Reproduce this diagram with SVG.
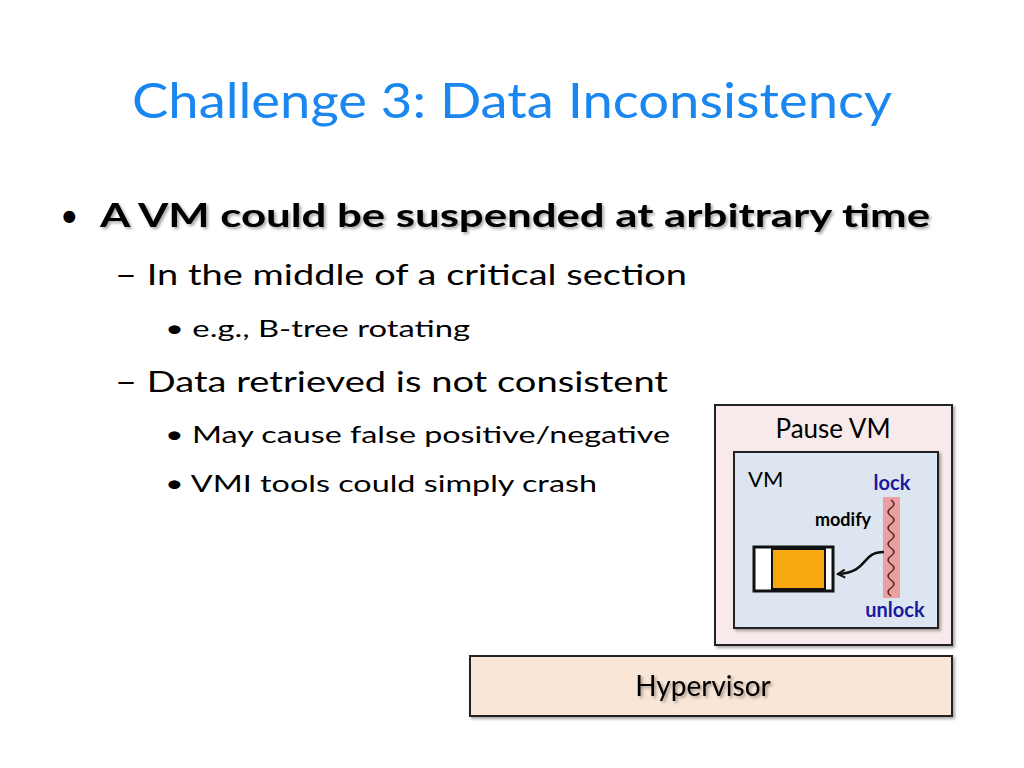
<svg xmlns="http://www.w3.org/2000/svg" width="1024" height="768" viewBox="0 0 1024 768">
<style>
text{font-family:Lato,"Open Sans",sans-serif;}
.t{fill:#000;font-size:32px}
.s{fill:#000;font-size:28px}
.lk{fill:#1a1aa0;font-size:20px;font-weight:bold}
.box{stroke:#222;stroke-width:2}
</style>
<defs>
<filter id="sh" x="-5%" y="-5%" width="115%" height="115%"><feDropShadow dx="2" dy="2" stdDeviation="1.5" flood-color="#000" flood-opacity="0.35"/></filter>
<marker id="ah" markerWidth="10" markerHeight="10" refX="8" refY="5" orient="auto" markerUnits="userSpaceOnUse"><path d="M1,1 L8,5 L1,9" fill="none" stroke="#111" stroke-width="2"/></marker>
</defs>
<rect width="1024" height="768" fill="#fff"/>
<text x="132" y="118" font-size="48" fill="#1a86f0" textLength="760" lengthAdjust="spacingAndGlyphs">Challenge 3: Data Inconsistency</text>
<text x="60" y="227" class="t">•</text>
<text x="100" y="227" class="t" font-weight="bold" fill="#000" style="filter:url(#sh)" textLength="830" lengthAdjust="spacingAndGlyphs">A VM could be suspended at arbitrary time</text>
<text x="115" y="285" class="s" textLength="572" lengthAdjust="spacingAndGlyphs">– In the middle of a critical section</text>
<text x="165" y="337" font-size="24" textLength="305" lengthAdjust="spacingAndGlyphs">• e.g., B-tree rotating</text>
<text x="115" y="392" class="s" textLength="553" lengthAdjust="spacingAndGlyphs">– Data retrieved is not consistent</text>
<text x="165" y="443" font-size="24" textLength="505" lengthAdjust="spacingAndGlyphs">• May cause false positive/negative</text>
<text x="165" y="492" font-size="24" textLength="432" lengthAdjust="spacingAndGlyphs">• VMI tools could simply crash</text>
<g id="pause">
<rect x="715" y="405" width="237" height="240" fill="#f8eaea" class="box" filter="url(#sh)"/>
<text x="833" y="438" font-size="26" text-anchor="middle">Pause VM</text>
</g>
<g id="vm">
<rect x="734" y="452" width="204" height="176" fill="#dde6f0" class="box" filter="url(#sh)"/>
<text x="748" y="487" font-size="22">VM</text>
<text x="892" y="490" class="lk" text-anchor="middle">lock</text>
<text x="895" y="617" class="lk" text-anchor="middle">unlock</text>
<text x="843" y="526" font-size="18" font-weight="bold" text-anchor="middle">modify</text>
<rect x="883" y="497" width="17" height="101" fill="#e8a0a0"/>
<path d="M891,500 q6,4 0,8 q-6,4 0,8 q6,4 0,8 q-6,4 0,8 q6,4 0,8 q-6,4 0,8 q6,4 0,8 q-6,4 0,8 q6,4 0,8 q-6,4 0,8 q6,4 0,8 q-6,4 0,8" fill="none" stroke="#5a1a1a" stroke-width="1.5"/>
</g>
<g id="data">
<rect x="754" y="547" width="79" height="44" fill="#fff" stroke="#111" stroke-width="3"/>
<rect x="772" y="549" width="53" height="40" fill="#f7a70f" stroke="#111" stroke-width="2"/>
</g>
<g id="connectors">
<path d="M884,552 C860,552 870,572 838,574" fill="none" stroke="#111" stroke-width="2.5" marker-end="url(#ah)"/>
</g>
<g id="hypervisor">
<rect x="470" y="656" width="482" height="60" fill="#fae6d6" class="box" filter="url(#sh)"/>
<text x="703" y="696" font-size="28" text-anchor="middle" style="filter:url(#sh)">Hypervisor</text>
</g>
</svg>
